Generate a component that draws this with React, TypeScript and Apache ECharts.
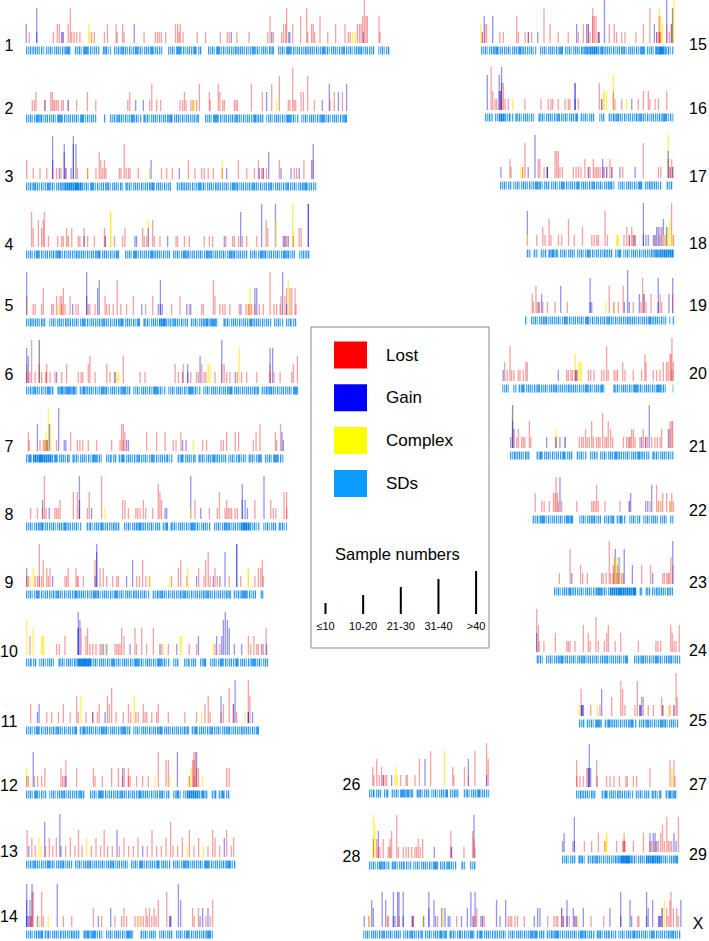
import React, { useEffect, useRef } from "react";
import * as echarts from "echarts";

// ---------- DATA ----------
// event tuple: [position (Mb), sample-number class, type: 0 Lost, 1 Gain, 2 Complex]
type Ev = number[];
// SD tuple: [start (Mb), end (Mb), density 1 normal / 2 dense]
type Sd = number[];

const chromNames = ["1","2","3","4","5","6","7","8","9","10","11","12","13","14","15","16","17","18","19","20","21","22","23","24","25","26","27","28","29","X"];
const chromLengths = [156,137.7,124.6,121.7,116,116.7,110.6,112,102,103.9,100,87.4,90,80.6,82.7,81,74,63.1,63.9,73.6,70.3,60.6,51.4,61.7,42.6,51.6,43.4,45.9,49.9,136.1];
const typeNames = ["Lost", "Gain", "Complex", "SDs"];
const sampleClassLabels = ["≤10", "10-20", "21-30", "31-40", ">40"];
const sampleClassValues = [10, 20, 30, 40, 50];

const ev1: Ev[] = [[0.1,20,1],[1.4,10,0],[4.6,40,1],[4.6,10,1],[11.7,10,0],[13.4,20,0],[14.3,20,0],[15.4,10,1],[15.4,10,0],[16,10,1],[18.1,20,0],[19,40,0],[19.6,10,0],[20.6,10,0],[21.7,10,0],[23.1,10,0],[26.9,20,2],[27.4,10,2],[28.1,10,0],[29.3,10,0],[33.6,10,0],[34.9,20,0],[38.6,20,0],[39.1,10,0],[41.4,20,0],[42,10,0],[46.4,20,1],[50.6,10,0],[55.4,10,0],[56.3,10,0],[57.1,10,0],[58,10,0],[59.9,10,0],[64.1,20,0],[65,20,0],[65.6,10,0],[66.1,20,0],[67.3,10,0],[73.4,10,0],[77,10,0],[83.3,10,0],[86.3,10,0],[87.1,10,0],[88,10,1],[90.4,10,0],[95.6,10,0],[103.6,10,0],[104.6,30,0],[105.3,10,1],[106,10,0],[109.6,10,0],[110.4,20,0],[111.3,20,0],[111.7,40,0],[112.6,10,1],[113.1,10,1],[114.3,20,0],[117.7,30,0],[120.3,40,0],[120.7,10,0],[122.4,20,0],[123.1,20,0],[123.7,10,0],[126,30,0],[129.3,10,0],[132.7,20,0],[136.7,20,0],[138.1,10,0],[138.9,10,0],[139.9,10,2],[141,10,2],[142,20,0],[142.9,20,0],[143.6,20,0],[144.3,30,0],[144.6,10,1],[145,50,0],[145.7,30,0],[146.3,30,0],[151.3,30,0],[151.7,10,0]];
const ev2: Ev[] = [[2.7,10,0],[3.6,10,0],[4.3,20,0],[8.1,10,1],[8.1,10,0],[10.6,20,0],[11.3,20,0],[11.9,10,0],[12.4,10,0],[13.1,10,0],[13.9,10,0],[15.3,10,0],[16,10,0],[18.1,10,1],[18.1,10,0],[21.7,10,0],[26.3,20,0],[29.9,10,0],[43.6,10,0],[44.4,20,0],[47,10,1],[50.3,10,1],[53,10,0],[53.9,30,0],[56,10,0],[57.7,10,0],[66,10,0],[67.1,10,0],[67.9,20,0],[68.6,10,0],[70.7,10,0],[71.6,10,2],[71.6,10,0],[72.1,10,2],[73.1,10,0],[74.3,30,0],[78.6,20,0],[78.9,10,0],[82.4,30,0],[83.1,20,0],[84.3,10,0],[85,10,0],[89.3,10,0],[90,10,0],[90.6,10,0],[96.6,30,0],[101.3,20,0],[103.1,20,1],[105.3,30,0],[107.4,10,2],[108.6,40,0],[112.4,10,0],[113.1,10,0],[114.3,50,0],[114.9,10,0],[115.6,10,0],[117.9,20,0],[118.9,20,0],[120.7,40,0],[123.6,10,0],[127,10,1],[130,30,1],[130.3,10,0],[132.1,20,0],[133.9,20,1],[135.6,20,0],[137.4,30,1]];
const ev3: Ev[] = [[0.3,20,0],[3.1,10,0],[6,10,0],[8.9,10,0],[11.4,20,1],[11.4,50,1],[11.4,10,0],[13.1,10,0],[14.3,10,1],[15,10,0],[16.4,40,1],[16.4,30,1],[17.1,10,1],[17.1,10,0],[19.3,10,1],[20.3,50,1],[20.3,40,1],[21.4,40,1],[22.1,10,0],[26.4,10,2],[26.4,10,0],[30,10,0],[31.4,30,0],[32.1,20,0],[32.9,10,0],[33.6,20,0],[34.3,10,0],[40,10,0],[40.7,10,0],[42.1,40,0],[42.9,10,0],[43.9,10,0],[44.6,10,0],[48.1,10,0],[53,10,2],[53.6,20,1],[58.1,10,0],[60.3,10,0],[62.7,10,0],[65.7,10,1],[69.6,20,0],[72.4,10,0],[75.3,10,0],[76.4,10,0],[78.1,10,0],[80.3,10,0],[84.1,20,2],[84.1,10,0],[86,10,1],[91,20,0],[94.6,10,0],[97.9,10,0],[99.6,20,0],[100,10,1],[101,10,0],[101.7,10,1],[101.7,10,0],[103.1,10,0],[104,30,1],[108.6,20,0],[109.3,10,1],[113.6,10,1],[115,10,0],[116,10,0],[117.1,10,1],[119.1,20,0],[122.4,20,1],[123.1,40,1],[123.1,20,0]];
const ev4: Ev[] = [[2.4,40,0],[3.1,20,0],[5.3,30,0],[6.7,20,0],[7.4,30,0],[7.9,40,0],[9.6,10,0],[13.6,10,0],[15.3,10,0],[16,10,0],[17.4,20,0],[18.1,10,2],[18.1,10,0],[19.6,20,0],[22.4,10,0],[23.1,10,0],[24.9,20,0],[24.9,10,1],[26.4,10,0],[29.3,10,0],[33.6,20,0],[34,10,1],[34,10,0],[36.3,40,2],[36.3,40,2],[37.9,10,0],[41.4,10,0],[42.4,20,0],[46.7,10,1],[47.4,10,1],[50,20,0],[50.7,10,0],[51.7,10,0],[52.4,30,2],[52.4,20,1],[54.3,30,0],[55,10,0],[57.4,10,0],[60.7,10,1],[64.3,10,0],[65,10,0],[67.9,10,0],[70,10,0],[76.4,10,0],[78.6,10,0],[80,10,0],[85,10,1],[85.7,10,0],[88.6,10,0],[89.3,10,0],[91.1,10,0],[92,40,1],[92.7,10,0],[94.6,10,0],[98.9,10,0],[101,50,1],[102.9,30,0],[103.6,20,0],[106.9,50,1],[107.1,30,2],[110.3,10,1],[111,10,1],[111,10,0],[111.7,10,0],[112.4,10,1],[114.3,50,2],[114.3,20,2],[114.6,10,0],[117.1,20,0],[117.9,20,0],[121,50,1],[121,50,1]];
const ev5: Ev[] = [[0.3,50,1],[0.3,20,0],[3.1,10,0],[3.9,10,0],[6.7,10,0],[7.4,30,0],[11,10,0],[11.7,10,0],[13.1,20,0],[13.9,10,2],[14.6,20,0],[15.3,20,0],[15.3,10,0],[16,30,0],[16.7,10,0],[18.9,20,0],[20,10,1],[21.4,10,0],[22.4,10,0],[26,50,1],[26,20,1],[26.7,10,0],[27.4,10,0],[29.6,10,0],[30.7,30,1],[31.4,40,1],[33.9,20,0],[34.6,10,0],[35.7,10,0],[37.4,10,0],[39.1,40,0],[40.6,10,0],[43.1,10,0],[46,20,0],[49.6,10,1],[51.3,10,0],[54.3,20,0],[56.7,10,1],[57.6,40,1],[57.6,10,1],[58.4,10,1],[62.4,10,0],[66,20,0],[68.9,10,1],[70,10,0],[70.6,10,1],[75.3,10,0],[76,10,0],[80.3,40,0],[81,20,0],[83.1,10,0],[84.3,10,0],[85.3,10,0],[87.4,10,0],[91.4,10,0],[92.1,10,1],[94.3,10,0],[95.3,10,2],[95.3,10,0],[96,30,2],[96,10,0],[96.7,10,0],[98.1,30,1],[98.1,10,0],[98.9,30,1],[100,10,0],[101.7,10,0],[104.6,50,0],[106.3,10,0],[107.4,10,0],[108.9,10,0],[109.3,20,0],[110,50,1],[111,20,0],[111.7,30,0],[111.7,10,1],[112.4,40,2],[113.1,30,0],[113.9,30,0],[115.3,30,0],[115.7,10,0]];
const ev6: Ev[] = [[0.3,40,1],[0.3,20,0],[0.3,10,0],[1,30,1],[1.7,10,0],[2.4,50,0],[3.9,10,0],[5.7,50,2],[5.7,50,1],[5.7,20,0],[6.7,10,0],[8.6,10,0],[8.6,10,0],[8.9,20,0],[10.3,10,0],[12.4,10,0],[13.1,10,1],[15.3,10,0],[17.4,20,0],[22.4,10,0],[23.6,10,0],[24.3,10,0],[26.7,20,0],[27.4,30,0],[29.6,10,0],[34.6,20,0],[36,10,0],[38.1,10,1],[38.1,10,0],[38.9,10,2],[39.6,10,2],[41.7,30,0],[48.9,10,0],[51,10,0],[63.9,20,0],[65.3,10,0],[67.1,10,1],[67.4,20,0],[69.3,20,1],[69.3,10,1],[70.6,10,0],[73.1,10,0],[73.9,10,0],[74.6,30,1],[75.3,20,0],[76.3,10,0],[77.1,10,0],[78.1,20,2],[78.9,20,2],[81,10,0],[83.9,50,1],[83.9,20,0],[84.9,20,0],[86,10,0],[87.4,10,0],[89.7,10,1],[90.6,10,0],[91.4,40,2],[92.4,10,0],[94.6,10,0],[98.9,10,0],[104.6,40,1],[104.6,20,0],[104.6,10,0],[105.7,40,1],[106.3,10,0],[108.9,10,0],[113.9,10,0],[114.6,20,0],[116.3,30,0]];
const ev7: Ev[] = [[1,20,0],[1.4,10,0],[4.9,30,1],[6,10,0],[7.4,10,0],[8.1,10,2],[8.1,10,0],[8.6,20,2],[8.6,10,0],[9.1,10,1],[9.1,10,0],[9.6,50,2],[10,30,1],[10.6,30,2],[13.1,10,0],[14,50,1],[16.4,10,1],[17.1,10,1],[19.1,20,0],[22,10,0],[23.1,10,0],[24.3,10,0],[26.7,10,0],[30.3,10,0],[36.7,10,0],[40.3,10,0],[41,30,0],[41.7,30,0],[41.7,10,0],[42.4,20,0],[43.1,10,1],[43.9,10,1],[51.7,20,0],[56,20,0],[59.6,20,0],[63.1,10,0],[64.3,10,0],[66.4,20,0],[67.1,10,1],[68.6,10,1],[71.7,10,2],[75.7,10,0],[77.4,10,0],[83.6,10,0],[84.6,10,0],[86,20,0],[89.7,20,0],[91.1,20,0],[97.4,10,0],[98.6,20,0],[100.3,30,0],[106.9,20,0],[107.4,10,0],[109.1,30,0],[109.7,20,1],[110.3,10,1]];
const ev8: Ev[] = [[2,10,0],[4.9,10,0],[7.1,20,1],[7.1,10,0],[7.9,50,0],[8.6,10,0],[10,10,1],[12.4,10,0],[13.1,10,0],[13.9,10,0],[14.6,20,0],[20.3,30,0],[22,30,0],[22.9,50,1],[22.9,20,1],[22.9,10,0],[26.3,10,0],[27.1,30,0],[28.1,10,1],[32.4,50,0],[33.9,10,2],[41.4,20,0],[42.4,20,0],[43.9,10,0],[47.1,10,0],[47.9,10,0],[48.9,10,0],[50.3,20,0],[51.3,10,0],[54.3,10,0],[56.7,40,0],[57.4,30,0],[58.1,20,0],[59.6,10,1],[60.3,10,1],[70.6,50,1],[70.6,10,2],[72.4,20,0],[74.9,10,1],[78.6,10,0],[82,10,0],[82.9,30,0],[85.3,10,0],[86,20,0],[86.7,10,0],[87.4,10,0],[88.1,10,0],[89.6,10,0],[90.6,10,0],[92.7,40,1],[92.7,20,1],[93.9,20,1],[94.9,10,1],[98.1,20,0],[102,50,1],[104.9,20,0],[106,10,0],[107.1,10,0],[110.6,30,0],[111.7,30,0],[111.7,10,0]];
const ev9: Ev[] = [[0.3,20,1],[0.3,10,0],[1,10,0],[1.7,10,2],[3.1,20,2],[3.9,10,0],[4.9,10,0],[5.7,50,0],[5.7,10,0],[6.7,10,0],[7.4,30,0],[8.9,20,0],[9.6,10,0],[10.3,20,0],[11.4,10,1],[16.7,10,0],[17.4,10,0],[18.1,20,0],[21.4,20,0],[22,10,0],[22.4,10,0],[24.6,10,0],[29.6,30,0],[29.6,10,1],[30.3,50,1],[30.3,40,1],[31.7,20,0],[33.1,20,0],[34.6,10,0],[37.1,10,0],[38.9,10,0],[39.6,10,0],[43.1,10,1],[45.7,30,1],[47.4,10,0],[48.6,10,0],[50,30,0],[51.4,10,0],[52.9,10,0],[53.1,10,2],[61.7,10,2],[62.4,10,0],[65.3,20,0],[66.3,30,0],[68.9,10,0],[69.3,20,2],[73.1,10,1],[74,20,0],[76.3,10,0],[77,30,0],[78.1,40,0],[78.9,10,0],[80.3,10,1],[81,20,0],[82,10,0],[83.1,10,1],[85.3,40,1],[87.1,10,0],[90.3,50,1],[90.3,50,1],[92,10,0],[95.3,20,2],[95.3,20,2],[98.1,10,0],[99.6,20,0],[100.6,20,0],[101.3,30,0],[101.7,10,0]];
const ev10: Ev[] = [[0.3,40,2],[1.7,20,0],[3.1,30,2],[6.7,20,2],[7.1,20,2],[7.7,20,2],[13.1,10,0],[14.3,10,0],[16.7,20,0],[22.4,50,1],[22.4,30,1],[22.4,30,1],[23.1,40,1],[23.6,30,0],[25.7,20,0],[26.4,30,0],[27.4,10,0],[28.6,10,0],[30,10,0],[31.7,10,0],[32.4,10,0],[33.1,10,1],[33.9,10,2],[34.6,10,1],[38.1,10,0],[38.9,10,0],[39.6,10,0],[40.3,10,0],[41,30,0],[42,20,0],[44.6,10,1],[46.7,30,0],[47.4,10,0],[49.6,30,0],[51.7,10,0],[54.6,30,0],[57.4,10,1],[58.1,10,0],[58.9,10,2],[61,10,0],[64.6,10,1],[66,20,2],[66.7,20,2],[70,10,0],[73.1,10,0],[73.9,20,1],[80.3,10,2],[81,10,0],[81.7,20,1],[83.1,10,0],[83.9,20,1],[84.6,40,1],[85.4,50,1],[86.3,40,1],[87.1,30,1],[89.3,10,1],[92.4,10,1],[95.3,20,0],[96.3,10,0],[97.7,20,0],[98.9,10,0],[99.6,10,0],[101,10,1],[101.7,10,0],[102.9,30,0],[103.1,10,1]];
const ev11: Ev[] = [[2,20,0],[4.9,10,1],[5.6,20,1],[8.9,10,0],[11,10,0],[13.9,10,0],[16,20,0],[18.9,10,0],[21.7,30,0],[22.4,10,0],[23.6,30,2],[25.7,10,0],[28.6,10,1],[28.6,10,0],[30.6,10,0],[31.4,20,0],[33.9,10,1],[34.9,30,0],[35.7,20,0],[36.7,40,0],[38.6,10,0],[41.7,10,0],[43.9,20,0],[44.9,10,0],[46.4,30,2],[47.1,10,0],[48.1,10,0],[50.3,20,0],[51,10,0],[51.7,10,0],[53.9,10,0],[56,10,0],[56.7,20,0],[61,10,0],[68.1,10,0],[73.1,10,0],[75.3,10,2],[76.7,20,0],[78.1,30,0],[78.9,10,0],[83.6,30,1],[83.6,10,0],[84.6,20,0],[87.1,40,0],[88.9,20,1],[88.9,20,0],[89.6,50,1],[90.3,10,0],[93.9,10,2],[95.3,50,0],[95.3,10,1],[95.3,10,1],[96,30,0],[97.1,10,1]];
const ev12: Ev[] = [[0.3,20,2],[0.3,10,0],[1,10,0],[3.1,40,1],[3.6,10,0],[5,10,0],[6.7,10,0],[8.1,20,0],[15,20,0],[15.7,10,0],[16.4,10,0],[17.1,30,0],[17.1,10,1],[21.7,20,0],[28.9,20,0],[29.6,10,0],[32.7,10,0],[36.7,20,0],[39.6,20,0],[41.4,20,1],[41.4,10,0],[42.1,20,0],[43.9,20,0],[43.9,10,0],[44.6,10,0],[47.4,10,0],[50,10,0],[52.4,10,0],[55.3,10,2],[56.7,40,0],[60,30,0],[61,30,0],[61.7,10,2],[64.9,40,1],[70,10,2],[70,10,0],[70.7,20,2],[71.4,30,0],[72,40,0],[72,30,0],[72,10,0],[72.6,40,0],[73.1,40,1],[73.1,20,0],[73.9,20,0],[75.7,10,2],[86,20,0],[87.1,20,0]];
const ev13: Ev[] = [[0.5,30,0],[1.2,10,1],[2.5,20,0],[4,10,0],[5.5,20,2],[6.5,10,2],[8,40,1],[8.4,10,0],[10,20,0],[11.5,10,0],[13,20,0],[14.5,50,1],[15,10,1],[17,10,0],[19,20,0],[21,10,0],[22.5,30,0],[24,10,0],[26,20,2],[28,10,0],[30,20,0],[32,10,0],[33.5,30,0],[35,10,0],[37,10,0],[39,30,1],[40,10,0],[42,20,0],[44,10,0],[46,10,0],[48,20,0],[50,10,1],[52,10,0],[54,30,0],[56,10,0],[58,10,0],[60,20,0],[62,40,0],[63,10,0],[65,10,0],[67,20,0],[69,10,2],[70,30,0],[72,10,0],[74,20,0],[76,10,2],[78,10,0],[80,30,0],[81,20,0],[83,10,0],[85,20,1],[86,30,0],[88,10,0],[89,20,0]];
const ev14: Ev[] = [[0.3,50,1],[0.3,30,1],[0.3,10,1],[1,10,1],[1.7,30,1],[1.7,10,0],[2.1,10,0],[2.1,10,0],[2.6,50,1],[2.6,40,0],[3.1,40,0],[4.9,10,1],[5.7,10,2],[6.7,40,0],[7.4,10,0],[9.6,10,2],[13.4,50,1],[16,10,0],[19.6,10,0],[28.9,20,0],[31,10,1],[32.4,10,0],[36.3,20,1],[38.1,10,0],[41,10,0],[42,20,0],[43.1,10,0],[46.7,10,0],[47.9,10,0],[48.6,10,2],[49.3,10,0],[50.3,10,0],[51.4,20,0],[52,10,0],[52.9,20,0],[53.9,10,0],[54.9,20,0],[55.7,10,0],[56.7,30,0],[60.3,40,0],[61.7,10,1],[61.7,10,1],[62.1,10,1],[65.3,50,1],[66.3,30,1],[71.4,20,0],[72.1,10,0],[73.9,20,0],[74.6,10,1],[75.7,20,1],[77.1,10,0],[78,20,1],[78.9,10,0],[80,30,0]];
const ev15: Ev[] = [[0,20,2],[0.6,10,0],[0.6,10,0],[1.4,30,1],[1.7,20,0],[2.4,20,0],[5,30,1],[8.1,10,0],[9.6,10,0],[15.3,30,0],[16,10,0],[18.9,10,0],[20.3,10,1],[20.3,10,0],[21.7,10,0],[24.3,10,1],[27,40,0],[29.6,20,0],[33.1,10,0],[37.4,10,0],[41,20,1],[41.7,10,0],[43.9,20,0],[45.3,20,1],[46,20,1],[46,20,0],[46.7,10,0],[47.9,40,0],[47.9,30,0],[48.6,30,0],[49.3,30,0],[50.3,10,1],[50.3,10,0],[50.7,10,1],[52.9,50,1],[55,20,0],[57.1,20,0],[58.1,10,0],[60.3,10,0],[61.7,10,0],[66.4,10,0],[69.6,20,0],[72.4,40,0],[74.3,20,1],[75.3,10,1],[75.3,10,0],[76.4,40,2],[76.4,30,0],[76.4,10,0],[76.4,10,0],[77,30,2],[77,10,0],[77.7,20,2],[79.6,50,1],[79.6,20,0],[80.7,10,0],[81.6,20,1],[81.6,20,0],[82.1,40,2],[82.1,40,1],[82.7,50,2]];
const ev16: Ev[] = [[1,40,1],[2.6,50,0],[3.3,20,0],[4.3,10,0],[5,10,0],[6.1,40,1],[6.1,20,1],[6.7,20,1],[6.7,20,0],[7.1,50,1],[7.1,30,1],[7.1,10,0],[7.9,30,0],[8.6,10,0],[10,10,0],[11.9,10,2],[17.1,10,0],[24,10,0],[27.1,10,0],[28.3,10,0],[29,10,0],[31.4,10,0],[34.3,10,0],[35.7,10,0],[36.4,10,0],[38.6,30,1],[38.6,30,1],[38.6,10,1],[40,10,0],[49,30,0],[50,10,1],[50,10,0],[51,20,2],[51,20,2],[52.1,20,2],[55,40,2],[55,20,0],[55.7,10,0],[58.6,10,0],[60.7,10,2],[62.9,10,1],[65.7,10,0],[67.9,20,0],[70,20,0],[70.7,10,0],[72.9,10,0],[74.3,10,0],[77.9,20,0]];
const ev17: Ev[] = [[0.4,10,1],[4.3,20,0],[4.7,10,0],[8.9,10,2],[9.7,10,2],[9.7,10,0],[10.7,40,0],[12.1,10,1],[15,50,1],[16.4,20,0],[17.1,20,0],[18.9,10,0],[20.3,10,1],[20.3,10,1],[20.3,10,1],[23.6,30,0],[24.3,30,0],[25,30,0],[25.7,10,0],[26.7,10,0],[31.4,10,0],[32.6,10,0],[33.6,10,0],[34.7,10,0],[36.4,20,0],[37.9,10,1],[37.9,10,0],[38.6,10,0],[40,20,0],[40.7,10,0],[41.4,10,0],[42.1,10,0],[42.9,10,0],[44,20,1],[44,10,0],[44.6,10,1],[45.7,10,1],[45.7,10,0],[47.1,20,0],[47.9,10,1],[47.9,10,0],[51.4,10,1],[52.6,10,0],[57.9,10,1],[61.4,40,0],[67.9,10,0],[68.9,10,0],[72.1,50,2],[72.1,30,1],[72.1,20,0],[72.9,10,1],[72.9,10,0],[73.6,20,0],[74,10,1],[74,10,0]];
const ev18: Ev[] = [[0.3,40,1],[0.3,10,2],[4.3,10,0],[6.9,20,0],[7.9,10,0],[9.6,30,0],[10.4,10,0],[13.6,10,0],[15,10,0],[17.9,30,0],[20.4,10,0],[23.9,20,0],[27.9,10,0],[28.9,10,0],[30,10,0],[30.7,10,0],[33.6,40,0],[34.6,10,0],[38.6,10,2],[38.9,10,2],[39.3,10,2],[41.7,10,0],[42.9,20,0],[44,10,1],[44,10,0],[45,20,0],[45.7,10,0],[45.7,10,0],[46.4,10,1],[46.4,10,0],[50,50,1],[50,10,1],[51.1,10,1],[52.1,10,1],[54.3,10,1],[55,10,1],[55,10,0],[55.7,20,1],[56.4,20,1],[57.1,20,0],[57.1,10,0],[57.9,20,1],[58.6,30,1],[58.6,10,2],[59.3,10,0],[60,20,2],[60,20,1],[60.7,20,2],[61.4,30,2],[62.1,50,0],[62.1,10,2],[62.9,10,2],[62.9,10,0]];
const ev19: Ev[] = [[3.1,20,0],[3.6,10,0],[4.7,30,0],[5.3,10,0],[6,10,1],[6,10,0],[7.1,20,1],[7.6,10,0],[9.6,10,0],[12.9,10,0],[15.3,30,1],[18.1,10,0],[27.9,40,1],[27.9,10,1],[28.6,10,1],[34.7,10,2],[36.1,30,0],[38.1,10,2],[38.1,10,0],[40,10,0],[42.1,30,0],[42.6,10,1],[44,50,1],[44.7,10,1],[46.4,10,0],[49,20,1],[49.7,10,0],[50.4,40,0],[51,20,1],[51,20,0],[51.9,10,0],[54,20,0],[57.1,40,1],[57.1,10,1],[57.9,20,0],[58.6,10,0],[61.7,20,1],[63.3,40,1],[63.3,20,0]];
const ev20: Ev[] = [[0.4,10,1],[1,20,0],[2.1,10,0],[3.3,40,0],[4,10,0],[5,10,0],[6.9,10,0],[7.6,10,0],[9,10,0],[10.1,20,0],[10.7,20,0],[24,10,1],[27.6,10,0],[28.3,10,0],[29.4,10,0],[30.1,10,0],[31.3,30,2],[31.3,10,1],[31.3,10,0],[31.9,10,1],[31.9,10,0],[32.7,20,2],[33.3,20,2],[33.9,20,2],[36.9,10,0],[37.9,10,0],[39.3,10,0],[42.6,10,0],[43.6,10,0],[44.7,40,0],[45.4,10,0],[47.9,10,0],[48.7,10,0],[49.4,10,0],[51.6,20,0],[52.6,10,0],[56.1,10,0],[59.7,10,0],[61.1,30,0],[61.6,20,0],[64.7,10,0],[66.1,10,0],[67.6,10,0],[69,20,0],[70.4,20,0],[71.1,20,0],[71.9,30,0],[72.3,30,0],[72.7,50,0],[72.7,10,0],[73.3,20,0]];
const ev21: Ev[] = [[0.3,10,1],[1.1,50,2],[1.1,50,1],[1.1,30,1],[1.1,20,0],[1.7,20,1],[2.9,10,0],[3.6,20,0],[5,10,0],[5.7,10,0],[6.4,10,0],[8.3,30,0],[8.9,10,0],[15.7,10,1],[19.7,20,2],[19.7,10,1],[19.7,10,0],[21.4,10,1],[23.6,10,1],[23.6,10,0],[29.7,10,0],[30.7,10,0],[31.4,10,0],[32.4,20,0],[33.1,10,0],[34,10,0],[35,30,0],[35.7,10,0],[37.1,10,0],[37.9,10,0],[38.6,10,0],[39.7,40,0],[40.7,10,0],[41.4,10,0],[42.1,30,0],[43.1,20,0],[44,10,0],[48.6,10,0],[50,10,0],[50.7,10,0],[51.4,10,0],[51.4,10,0],[52.1,20,0],[52.9,20,0],[53.6,10,0],[55.7,10,0],[56.4,10,1],[57.1,20,0],[58.1,10,1],[58.1,10,0],[58.9,10,0],[59.7,50,1],[60.7,10,0],[62.1,10,0],[63.1,10,0],[64.3,10,0],[65,20,0],[67.9,20,1],[68.6,30,0],[68.6,20,0],[69.3,30,0],[69.7,30,0]];
const ev22: Ev[] = [[1.1,20,0],[3.9,10,0],[4.9,10,0],[7.1,10,0],[8.9,20,0],[9.6,20,0],[10,40,0],[10.6,20,0],[11,10,0],[11.7,40,1],[12.4,10,0],[18.9,10,0],[25.3,10,0],[26,10,0],[26.7,10,0],[27.4,30,0],[28.1,10,0],[31,10,0],[37.4,10,0],[41.4,10,1],[41.4,10,0],[42,20,1],[48.4,10,1],[49.3,10,1],[50.3,10,0],[51,30,1],[53.1,30,0],[53.9,10,2],[53.9,10,0],[54.9,10,0],[55.7,20,0],[57.4,20,0],[58.9,10,2],[58.9,10,0],[59.6,20,0],[60.3,10,0]];
const ev23: Ev[] = [[2.3,10,0],[6.9,40,0],[7.6,10,1],[11.4,20,0],[12.3,10,0],[14.3,10,0],[20.4,10,0],[21.1,10,0],[22.3,10,0],[23.7,50,0],[24.3,10,0],[25.4,20,0],[25.4,10,0],[25.9,30,0],[26.3,40,1],[26.3,30,2],[26.9,30,2],[26.9,10,0],[27.3,20,0],[27.9,30,1],[27.9,10,0],[28.3,20,2],[29,10,0],[29.7,10,0],[30.1,40,1],[33.6,20,1],[37.6,20,0],[41.4,20,0],[42.3,10,1],[46.6,10,0],[47.3,10,0],[48.3,10,0],[49,10,0],[49.4,10,0],[50.1,30,0],[50.9,50,1],[50.9,20,0]];
const ev24: Ev[] = [[0,50,0],[0,20,1],[0.7,30,0],[1.1,10,0],[3.1,10,0],[8,20,0],[12.9,10,0],[13.6,10,0],[14.3,10,0],[16.4,10,0],[20,30,0],[22.1,20,0],[22.9,10,0],[25.4,40,0],[26.4,10,0],[29,10,0],[30,20,0],[30.7,30,0],[33.6,10,0],[36,20,0],[43.6,10,0],[51.1,10,0],[51.9,10,0],[53.1,10,0],[57.4,30,0],[58.1,20,0],[58.9,10,0],[59.7,10,0],[61.1,30,0]];
const ev25: Ev[] = [[0.1,10,2],[0.9,30,0],[1.1,10,1],[1.1,10,1],[1.5,10,1],[1.9,10,1],[5,10,0],[7.9,10,2],[9,10,0],[9.7,30,1],[14,20,0],[17.9,40,0],[18.7,30,0],[19.7,10,0],[24,10,0],[25,40,0],[26.1,10,1],[26.1,10,1],[26.5,10,1],[26.9,20,1],[27.6,20,0],[29.7,10,0],[31.9,10,0],[35.4,20,0],[35.9,10,1],[35.9,10,0],[38.3,10,2],[39,10,0],[40.7,10,1],[40.7,10,0],[41.6,50,0],[42.1,20,0]];
const ev26: Ev[] = [[1.6,20,0],[2.1,10,0],[3.3,30,0],[4.4,10,0],[5.4,20,0],[6.1,10,1],[6.1,10,0],[6.9,10,0],[7.6,10,0],[9.7,10,1],[11.1,10,2],[11.6,20,2],[12.1,10,2],[13.6,10,0],[15.9,10,0],[16.4,10,0],[19.7,10,0],[21.6,30,0],[24,30,1],[26.4,40,0],[32.3,40,2],[35.9,20,0],[36.4,10,0],[40.9,20,0],[42.6,30,1],[42.6,10,0],[45.4,40,0],[50.4,50,0],[50.4,10,1],[51.1,30,0]];
const ev27: Ev[] = [[0.3,30,0],[0.3,10,0],[1.7,10,0],[3.1,10,0],[4.6,20,0],[5.3,20,1],[5.3,20,0],[5.7,50,1],[5.7,20,1],[6.3,20,1],[8.9,30,0],[9.1,10,0],[13.1,10,0],[14.6,10,0],[16.3,10,0],[18.6,10,0],[21.4,10,0],[22,10,0],[24.6,10,0],[26,10,0],[31.7,20,0],[40.3,30,0],[41.1,20,2],[41.1,10,2],[42,30,0],[42.4,10,0]];
const ev28: Ev[] = [[1.9,50,2],[1.9,20,2],[1.9,20,0],[2.6,40,2],[3.3,20,0],[4,30,1],[4,10,0],[4.7,10,0],[6.1,20,0],[8.3,10,0],[9,20,0],[9,10,0],[9.7,30,0],[11.9,50,0],[12.6,10,0],[14.7,10,0],[15.9,10,0],[16.9,10,0],[18.3,10,0],[19.7,10,0],[20.4,10,0],[21.1,20,0],[21.9,10,0],[23,20,0],[28,10,1],[35.1,30,0],[35.1,10,0],[35.4,10,1],[40.7,10,0],[44.4,30,0],[45,50,1],[45,20,0],[45.4,10,0]];
const ev29: Ev[] = [[0.3,10,1],[0.9,20,1],[4.6,10,0],[5.3,40,1],[5.3,10,1],[9.6,10,0],[12.7,10,0],[15.6,20,0],[18.4,10,2],[18.4,10,0],[19.1,20,2],[19.1,20,2],[23.4,10,0],[26,10,0],[26.6,20,0],[26.6,10,0],[26.6,10,0],[27,10,0],[30.6,10,0],[34.9,20,0],[37.7,20,1],[37.7,10,0],[38.4,10,0],[39.1,20,1],[39.9,20,1],[39.9,10,0],[40.6,10,1],[41.3,10,0],[42.3,20,0],[43.1,30,0],[43.9,10,0],[44.9,40,0],[45.6,10,0],[46.3,10,0],[47,10,0],[48,20,1],[48.9,10,1],[49.9,40,0]];
const evX: Ev[] = [[0.4,10,1],[2.4,10,2],[2.4,10,0],[3.6,30,1],[4.3,20,1],[8.1,40,1],[9.6,30,1],[10.4,10,0],[10.7,10,0],[12.9,40,1],[12.9,10,1],[13.6,10,1],[14.7,40,1],[15.3,40,1],[15.3,10,0],[17.1,40,1],[17.1,10,1],[21,10,1],[21,10,0],[21.4,10,1],[21.4,10,0],[25.7,10,2],[25.7,10,2],[25.9,10,1],[28.1,40,1],[28.1,20,1],[30.3,30,1],[31,10,1],[31.9,10,0],[33.6,20,1],[34.3,20,2],[35,20,1],[36.4,10,1],[37.1,10,1],[40,10,0],[42.1,10,1],[44.6,20,1],[46.1,40,1],[47.1,10,1],[47.1,10,0],[47.9,40,1],[47.9,10,0],[48.6,20,0],[50.4,10,1],[51.1,10,1],[51.1,10,0],[51.9,10,0],[57.1,30,1],[58.6,10,1],[61,30,1],[62.1,10,0],[62.9,10,0],[63.6,10,0],[65,10,0],[66.1,10,0],[69,10,0],[73.3,10,1],[74.7,20,1],[75.7,20,1],[79,10,0],[81.7,10,0],[82.6,10,0],[83.3,10,0],[85,20,1],[85,20,0],[85.7,10,1],[85.7,10,0],[87.3,30,1],[87.3,10,1],[88.3,10,0],[90,20,1],[90.7,10,1],[90.7,10,0],[91.4,10,1],[92.1,10,2],[94.3,20,1],[97.6,10,0],[103,10,0],[105.7,20,1],[110.3,40,1],[110.3,10,1],[114.3,30,1],[115,10,1],[117.6,10,0],[118.1,10,0],[121.4,40,1],[121.4,10,1],[122.1,20,1],[124,30,1],[126.7,10,1],[126.7,10,1],[127.2,10,1],[127.6,10,1],[128.1,20,1],[128.1,20,0],[129,30,2],[130,20,0],[130.7,10,0],[131.4,30,0],[131.9,40,0],[132.9,20,0],[134.3,20,0],[135,10,0],[136.1,30,1]];

const sd1: Sd[] = [[0,7.9,1],[8.6,19.4,1],[20.9,31.7,1],[32.9,36.6,1],[37.7,58.6,1],[60.9,75.4,1],[78,106.4,1],[108,149.4,1],[151,156,1]];
const sd2: Sd[] = [[0,30.3,1],[33.4,34.3,1],[36,49.6,1],[50.3,74.3,1],[76.7,102,1],[103,117,1],[118,137.7,1]];
const sd3: Sd[] = [[0,16,1],[16,24,2],[24,41.7,1],[42.6,62.4,1],[64.6,124.6,1]];
const sd4: Sd[] = [[0,40,1],[42.4,61.9,1],[63,95,1],[96,115.7,1],[117.1,121.7,1]];
const sd5: Sd[] = [[0,8.6,1],[10,49,1],[50.3,57,1],[57,60,2],[60,69.6,1],[70.6,82.4,1],[84.6,105.3,1],[106.3,110.4,1],[111.4,116,1]];
const sd6: Sd[] = [[0,12,1],[13.5,22,1],[23,45,1],[46,60,1],[61,75,1],[76,100,1],[101,116.7,1]];
const sd7: Sd[] = [[0,3,1],[3,11,2],[11,19,1],[19.9,33,1],[34.3,38.9,1],[39.7,63,1],[65,73,1],[73.9,86,1],[86.7,94.6,1],[95.4,101.6,1],[102.4,110.6,1]];
const sd8: Sd[] = [[0,23.9,1],[26,40.3,1],[42,57.7,1],[58.6,61,1],[61.9,79.1,1],[80.6,92,1],[92,96,2],[96,100.3,1],[101.7,107.4,1],[108.3,112,1]];
const sd9: Sd[] = [[0,53,1],[54.3,88,1],[89,99,1],[100.6,102,1]];
const sd10: Sd[] = [[0,4.6,1],[5.7,12.4,1],[13.9,22,1],[22,28,2],[28,61.7,1],[63.1,65.7,1],[67.7,73.1,1],[74.6,77.4,1],[78.9,103.9,1]];
const sd11: Sd[] = [[0,22,1],[23,45,1],[46,70,1],[71,100,1]];
const sd12: Sd[] = [[0,8.9,1],[10,25.3,1],[27.4,61.7,1],[63.1,66.7,1],[67.4,69,1],[69,74,2],[74,78.1,1],[79.6,81.9,1],[82.6,87.4,1]];
const sd13: Sd[] = [[0,20,1],[21,44,1],[45,62,1],[63,90,1]];
const sd14: Sd[] = [[0,7.4,1],[8,23.1,1],[24.6,33.1,1],[34.3,46,1],[49.1,56,1],[57.1,63.1,1],[64.3,80.6,1]];
const sd15: Sd[] = [[0,23.9,1],[25.3,35.3,1],[36,46,1],[46,50,2],[50,70.4,1],[71.1,76,1],[76,78.6,2],[78.6,82.7,1]];
const sd16: Sd[] = [[0,3.6,1],[4.3,6,1],[6,8.6,2],[8.6,12.4,1],[13,21.4,1],[22.9,40,1],[41,47,1],[49,51.4,1],[53,81,1]];
const sd17: Sd[] = [[0,5,1],[5.7,21.4,1],[21.9,49.3,1],[50.7,61.4,1],[62.1,69.3,1],[71.4,74,1]];
const sd18: Sd[] = [[0,2,1],[3,5,1],[6,8.6,1],[9.3,13.6,1],[14.3,21,1],[21.6,37,1],[37.9,40.7,1],[41.4,56.4,1],[56.4,63.1,2]];
const sd19: Sd[] = [[0,1,1],[2.6,60.7,1],[61.9,62.5,1],[63.3,63.9,1]];
const sd20: Sd[] = [[0,3.3,1],[4.7,6.4,1],[7,44.1,1],[47.6,70.6,1],[73,73.6,1]];
const sd21: Sd[] = [[0,8.6,1],[11.4,27,1],[28.6,33,1],[34.3,37.9,1],[38.6,60,1],[61,70.3,1]];
const sd22: Sd[] = [[0,17.4,1],[20,29.6,1],[30.6,35.3,1],[36,40,1],[41.4,46.3,1],[47.4,53.9,1],[54.6,58.1,1],[58.9,60.6,1]];
const sd23: Sd[] = [[0,24,1],[24,35.3,2],[36.7,38,1],[39.3,41.4,1],[42,51.4,1]];
const sd24: Sd[] = [[0,2.9,1],[4,39.3,1],[41.7,61.7,1]];
const sd25: Sd[] = [[0,2.6,1],[3.3,10,1],[11,24.9,1],[25.7,42.6,1]];
const sd26: Sd[] = [[0,5.4,1],[6.4,8.6,1],[9.7,19,1],[20.4,26,1],[26.7,34,1],[34.7,38.6,1],[40.6,51.6,1]];
const sd27: Sd[] = [[0,8.6,1],[11,24.6,1],[25.6,31.7,1],[32.4,36.9,1],[38.4,43.4,1]];
const sd28: Sd[] = [[0,9,1],[9.7,18.3,1],[19,29.7,1],[30.4,37.6,1],[39.6,41.4,1],[43.3,45.9,1]];
const sd29: Sd[] = [[0,6,1],[7,10.4,1],[11,25,1],[25,29.3,2],[29.3,36,1],[36,42.3,2],[42.3,49.9,1]];
const sdX: Sd[] = [[0,16.4,1],[17.1,25.7,1],[26.4,36.4,1],[36.9,47.9,1],[48.6,61.4,1],[62.1,77.9,1],[78.6,99.3,1],[100,108.6,1],[109.3,136.1,1]];

const eventsByChrom = [ev1,ev2,ev3,ev4,ev5,ev6,ev7,ev8,ev9,ev10,ev11,ev12,ev13,ev14,ev15,ev16,ev17,ev18,ev19,ev20,ev21,ev22,ev23,ev24,ev25,ev26,ev27,ev28,ev29,evX];
const sdByChrom = [sd1,sd2,sd3,sd4,sd5,sd6,sd7,sd8,sd9,sd10,sd11,sd12,sd13,sd14,sd15,sd16,sd17,sd18,sd19,sd20,sd21,sd22,sd23,sd24,sd25,sd26,sd27,sd28,sd29,sdX];

// ---------- LAYOUT ----------
const PX_PER_MB = 7 / 3;
const TRACK_H = 43;
const Y_MIN = -3.75;
const Y_MAX = 50;
const trackX = [26,26,26,26,26,26,26,26,26,26,26,26,26,26,481,485,500,526.7,525,502.3,510,532.7,554,536.7,579,369,576,369,562,363.3];
const trackBase = [43,111,179,247,315,383,451,519,587,655,723,787,857,927,43,110,178,246,313,381,448,512,584,652,716,786,787,858,852,927];
const labelX = [9,9,9,9,9,9,9,9,9,9,9,9,9,9,698,698,698,698,698,698,698,698,698,698,698,351.5,698,351.5,698,698];
const labelY = [45.7,108,176.7,244,305,374.3,446,514.3,582.7,651.7,721.7,785.7,851,916.7,44,108.3,176,243.7,305,373,446.7,510.7,582,650,720.7,784,784,856.7,854,923.3];

const EV_COLORS = ["rgba(236,30,30,0.42)", "rgba(20,20,225,0.45)", "rgba(255,232,0,0.62)"];
const LEGEND_COLORS = ["#ff0000", "#0000ff", "#ffff00", "#0a9cff"];
const FONT = '"Liberation Sans", Arial, sans-serif';

const SD_DARK = ["#3a9def", "#5fb2f2", "#2a93ec", "#78bff4", "#4aa6f0", "#2f98ee"];
const SD_DENSE = ["#0a7fe4", "#1c8ae8", "#0f83e6"];

function sdFill(w: number, dens: number) {
  const n = Math.max(1, Math.round(w / 1.9));
  const stops: { offset: number; color: string }[] = [];
  for (let j = 0; j < n; j++) {
    const a = j / n, m = (j + 0.6) / n, b = (j + 1) / n;
    const dark = dens > 1 ? SD_DENSE[(j * 5) % SD_DENSE.length] : SD_DARK[(j * 7) % SD_DARK.length];
    const light = dens > 1 ? "#5aaef2" : (j % 4 === 3 ? "#ffffff" : "#b9defb");
    stops.push({ offset: a, color: dark }, { offset: m, color: dark }, { offset: m, color: light }, { offset: b, color: light });
  }
  return new echarts.graphic.LinearGradient(0, 0, 1, 0, stops);
}

function buildOption() {
  const grid: any[] = [];
  const xAxis: any[] = [];
  const yAxis: any[] = [];
  const series: any[] = [];
  const graphic: any[] = [];

  chromNames.forEach((name, i) => {
    const len = chromLengths[i];
    const w = len * PX_PER_MB;
    const base = trackBase[i];
    // event track grid
    const g = grid.length;
    grid.push({ left: trackX[i], top: base - TRACK_H, width: w, height: TRACK_H, containLabel: false });
    xAxis.push({ gridIndex: g, type: "value", min: 0, max: len, show: false });
    yAxis.push({ gridIndex: g, type: "value", min: Y_MIN, max: Y_MAX, show: false });
    series.push({
      type: "custom",
      name: "chr" + name,
      xAxisIndex: g,
      yAxisIndex: g,
      silent: true,
      clip: false,
      data: eventsByChrom[i],
      renderItem: (_p: any, api: any) => {
        const pos = api.value(0), n = api.value(1), t = api.value(2);
        const p0 = api.coord([pos, Y_MIN]);
        const p1 = api.coord([pos, n]);
        return {
          type: "line",
          shape: { x1: p0[0], y1: p0[1], x2: p1[0], y2: p1[1] },
          style: { stroke: EV_COLORS[t], lineWidth: 1.3 },
        };
      },
    });
    // SD strip grid
    const g2 = grid.length;
    grid.push({ left: trackX[i], top: base + 3.5, width: w, height: 8, containLabel: false });
    xAxis.push({ gridIndex: g2, type: "value", min: 0, max: len, show: false });
    yAxis.push({ gridIndex: g2, type: "value", min: 0, max: 1, show: false });
    series.push({
      type: "custom",
      name: "sd" + name,
      xAxisIndex: g2,
      yAxisIndex: g2,
      silent: true,
      clip: false,
      data: sdByChrom[i],
      renderItem: (_p: any, api: any) => {
        const s = api.value(0), e = api.value(1), d = api.value(2);
        const a = api.coord([s, 1]);
        const b = api.coord([e, 0]);
        const wd = Math.max(1, b[0] - a[0]);
        return {
          type: "rect",
          shape: { x: a[0], y: a[1], width: wd, height: b[1] - a[1] },
          style: { fill: sdFill(wd, d) },
        };
      },
    });
    graphic.push({
      type: "text",
      x: labelX[i],
      y: labelY[i],
      style: { text: name, font: `16px ${FONT}`, fill: "#000", textAlign: "center", textVerticalAlign: "middle", align: "center", verticalAlign: "middle" },
    });
  });

  // legend box
  graphic.push({ type: "rect", shape: { x: 311, y: 327, width: 178, height: 321 }, style: { fill: "#fff", stroke: "#8a8a8a", lineWidth: 1 }, z: -1 });
  typeNames.forEach((t, k) => {
    const cy = 355 + k * 42.8;
    graphic.push({ type: "rect", shape: { x: 334, y: cy - 13.5, width: 33, height: 27 }, style: { fill: LEGEND_COLORS[k] } });
    graphic.push({
      type: "text", x: 386, y: cy,
      style: { text: t, font: `17px ${FONT}`, fill: "#000", textAlign: "left", textVerticalAlign: "middle", align: "left", verticalAlign: "middle" },
    });
  });
  graphic.push({
    type: "text", x: 335, y: 554.3,
    style: { text: "Sample numbers", font: `16.5px ${FONT}`, fill: "#000", textAlign: "left", textVerticalAlign: "middle", align: "left", verticalAlign: "middle" },
  });
  sampleClassLabels.forEach((lab, k) => {
    const x = 325.5 + k * 37.65;
    const h = (sampleClassValues[k] - Y_MIN) * (TRACK_H / (Y_MAX - Y_MIN));
    graphic.push({ type: "line", shape: { x1: x, y1: 614, x2: x, y2: 614 - h }, style: { stroke: "#000", lineWidth: 2 } });
    graphic.push({
      type: "text", x, y: 626,
      style: { text: lab, font: `11px ${FONT}`, fill: "#000", textAlign: "center", textVerticalAlign: "middle", align: "center", verticalAlign: "middle" },
    });
  });

  return { animation: false, backgroundColor: "#ffffff", grid, xAxis, yAxis, series, graphic };
}

export default function App() {
  const ref = useRef<HTMLDivElement>(null);
  useEffect(() => {
    if (!ref.current) return;
    const chart = echarts.init(ref.current, null, { renderer: "svg" });
    chart.setOption(buildOption() as any);
    return () => chart.dispose();
  }, []);
  return <div ref={ref} style={{ position: "absolute", left: 0, top: 0, width: 709, height: 941 }} />;
}
